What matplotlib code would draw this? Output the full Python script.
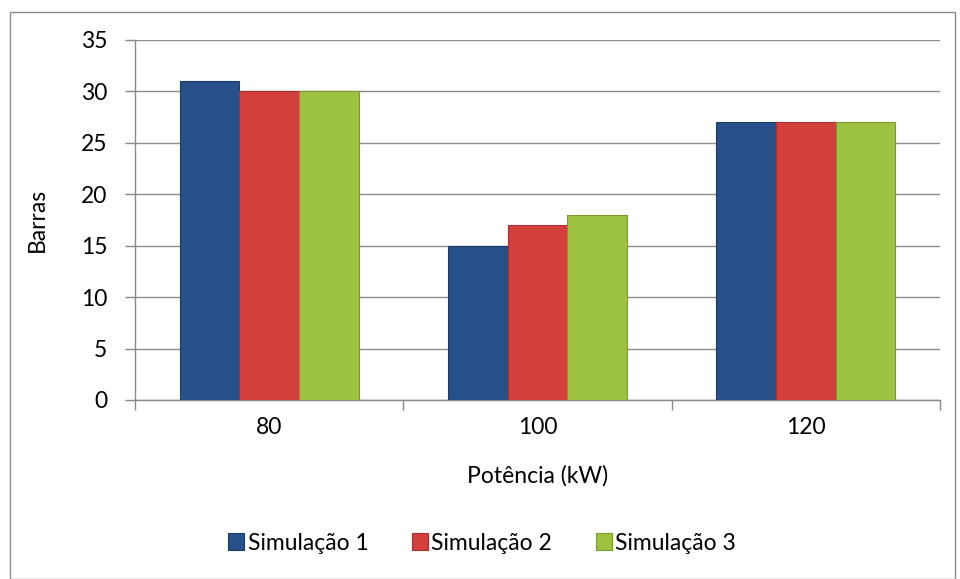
import matplotlib
matplotlib.use("Agg")
import matplotlib.pyplot as plt
import numpy as np
from matplotlib.patches import Rectangle

categories = ["80", "100", "120"]
series_names = ["Simulação 1", "Simulação 2", "Simulação 3"]
sim1 = [31, 15, 27]
sim2 = [30, 17, 27]
sim3 = [30, 18, 27]
colors = ["#27508A", "#D23F3D", "#9DC23F"]
edge_colors = ["#1C3C66", "#A8302E", "#7A9A2E"]

plt.rcParams['font.family'] = ['Lato', 'DejaVu Sans']
fs = 16.5

fig = plt.figure(figsize=(9.6, 5.79), dpi=100)
ax = fig.add_axes([135/960, 1-400/579, (940-135)/960, 360/579])

x = np.arange(len(categories))
w = 0.222
for i, (vals, c, ec) in enumerate(zip([sim1, sim2, sim3], colors, edge_colors)):
    ax.bar(x + (i-1)*w, vals, width=w, color=c, edgecolor=ec, linewidth=0.8,
           label=series_names[i], zorder=3)

ax.set_xlim(-0.5, 2.5)
ax.set_ylim(0, 35)
ax.set_yticks(range(0, 36, 5))
ax.set_xticks(x)
ax.set_xticklabels(categories)
ax.set_xticks([0.5, 1.5, 2.5, -0.5], minor=True)
ax.tick_params(axis='x', which='major', length=0, pad=12, labelsize=fs)
ax.tick_params(axis='x', which='minor', length=7, color='#888888', width=1, direction='out')
ax.tick_params(axis='y', length=7, color='#888888', width=1, labelsize=fs, pad=13, direction='out')
ax.grid(axis='y', color='#8C8C8C', linewidth=1, zorder=0)
ax.set_axisbelow(True)
for s in ['top', 'right']:
    ax.spines[s].set_visible(False)
for s in ['left', 'bottom']:
    ax.spines[s].set_color('#888888')
    ax.spines[s].set_linewidth(1)

ax.set_xlabel("Potência (kW)", fontsize=fs, labelpad=20)
ax.set_ylabel("Barras", fontsize=fs, labelpad=24)

leg = fig.legend(loc='center', bbox_to_anchor=(482/960, 1-543/579), ncol=3,
                 frameon=False, fontsize=fs, handlelength=0.7, handleheight=0.7,
                 handletextpad=0.15, columnspacing=1.9)

fig.patches.append(Rectangle((10/960, 0.0), 945/960, 1-12/579, transform=fig.transFigure,
                             fill=False, edgecolor='#8C8C8C', linewidth=1))

fig.savefig("out.png", dpi=100)
